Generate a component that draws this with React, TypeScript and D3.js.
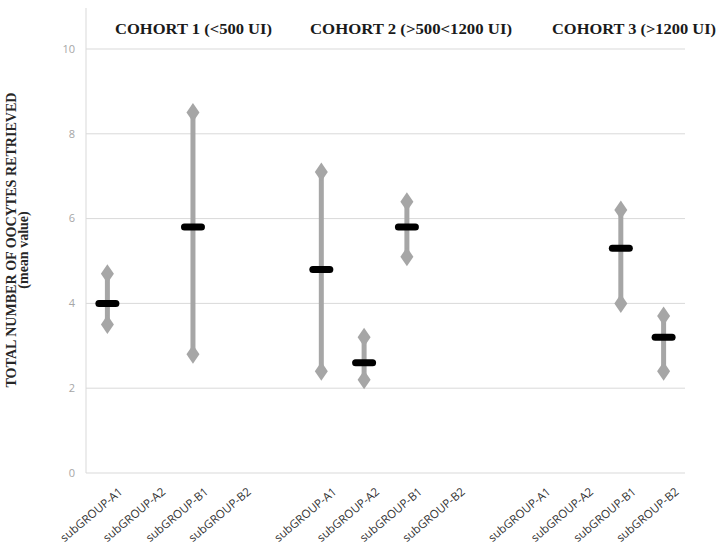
import React from "react";
import * as d3 from "d3";

const subgroups = ["subGROUP-A1", "subGROUP-A2", "subGROUP-B1", "subGROUP-B2"];
const cohorts = ["COHORT 1 (<500 UI)", "COHORT 2 (>500<1200 UI)", "COHORT 3 (>1200 UI)"];
// per cohort, per subgroup (null = no data)
const meanValues = [
  [4.0, null, 5.8, null],
  [4.8, 2.6, 5.8, null],
  [null, null, 5.3, 3.2],
];
const highValues = [
  [4.7, null, 8.5, null],
  [7.1, 3.2, 6.4, null],
  [null, null, 6.2, 3.7],
];
const lowValues = [
  [3.5, null, 2.8, null],
  [2.4, 2.2, 5.1, null],
  [null, null, 4.0, 2.4],
];
const yTicks = [0, 2, 4, 6, 8, 10];

const W = 720;
const H = 547;
const left = 86;
const right = 685;
const top = 8;
const bottom = 473;

export default function App() {
  const slots = d3.range(cohorts.length * 5 - 1);
  const x = d3.scaleBand<number>().domain(slots).range([left, right]).padding(0);
  const y = d3.scaleLinear().domain([0, 10]).range([bottom, 49]);
  const cx = (c: number, s: number) => (x(c * 5 + s) as number) + x.bandwidth() / 2;

  const diamond = (px: number, py: number) =>
    `M${px},${py - 9.5} L${px + 6.5},${py} L${px},${py + 9.5} L${px - 6.5},${py} Z`;

  const titleXs = [193.5, 411, 634];
  const titleLens = [157, 202, 164];

  const marks: React.ReactNode[] = [];
  cohorts.forEach((_, c) => {
    subgroups.forEach((_, s) => {
      const m = meanValues[c][s];
      const hi = highValues[c][s];
      const lo = lowValues[c][s];
      if (m == null || hi == null || lo == null) return;
      const px = cx(c, s);
      marks.push(
        <g key={`${c}-${s}`}>
          <line x1={px} x2={px} y1={y(hi)} y2={y(lo)} stroke="#a6a6a6" strokeWidth={5} />
          <path d={diamond(px, y(hi))} fill="#a6a6a6" />
          <path d={diamond(px, y(lo))} fill="#a6a6a6" />
          <line x1={px - 8.5} x2={px + 8.5} y1={y(m)} y2={y(m)} stroke="#000" strokeWidth={7} strokeLinecap="round" />
        </g>
      );
    });
  });

  return (
    <svg width={W} height={H} style={{ position: "absolute", left: 0, top: 0 }}>
      <rect width={W} height={H} fill="#fff" />
      {yTicks.map((t) => (
        <g key={t}>
          <line x1={left} x2={right} y1={y(t)} y2={y(t)} stroke="#d9d9d9" strokeWidth={1} />
          <text x={75} y={y(t)} dy="0.35em" textAnchor="end" fontFamily="'Open Sans', sans-serif" fontSize={11} fill="#a6a6a6">
            {t}
          </text>
        </g>
      ))}
      <line x1={left} x2={left} y1={top} y2={bottom} stroke="#d9d9d9" strokeWidth={1} />
      {marks}
      {cohorts.map((c, i) =>
        subgroups.map((sg, s) => {
          const px = cx(i, s);
          return (
            <text
              key={`${i}-${s}`}
              transform={`translate(${px + 16},${493}) rotate(-40)`}
              textAnchor="end"
              fontFamily="'Open Sans', sans-serif"
              fontSize={11.5}
              fill="#333333"
            >
              {sg}
            </text>
          );
        })
      )}
      {cohorts.map((c, i) => (
        <text
          key={c}
          x={titleXs[i]}
          y={34}
          textAnchor="middle"
          fontFamily="'Liberation Serif', 'Times New Roman', serif"
          fontWeight="bold"
          fontSize={14.5}
          fill="#1a1a1a"
          textLength={titleLens[i]}
          lengthAdjust="spacingAndGlyphs"
        >
          {c}
        </text>
      ))}
      <text
        transform={`translate(16,240) rotate(-90)`}
        textAnchor="middle"
        fontFamily="'Liberation Serif', 'Times New Roman', serif"
        fontWeight="bold"
        fontSize={14}
        fill="#262626"
        textLength={295}
        lengthAdjust="spacingAndGlyphs"
      >
        TOTAL NUMBER OF OOCYTES RETRIEVED
      </text>
      <text
        transform={`translate(28,250) rotate(-90)`}
        textAnchor="middle"
        fontFamily="'Liberation Serif', 'Times New Roman', serif"
        fontWeight="bold"
        fontSize={14}
        fill="#262626"
      >
        (mean value)
      </text>
    </svg>
  );
}
